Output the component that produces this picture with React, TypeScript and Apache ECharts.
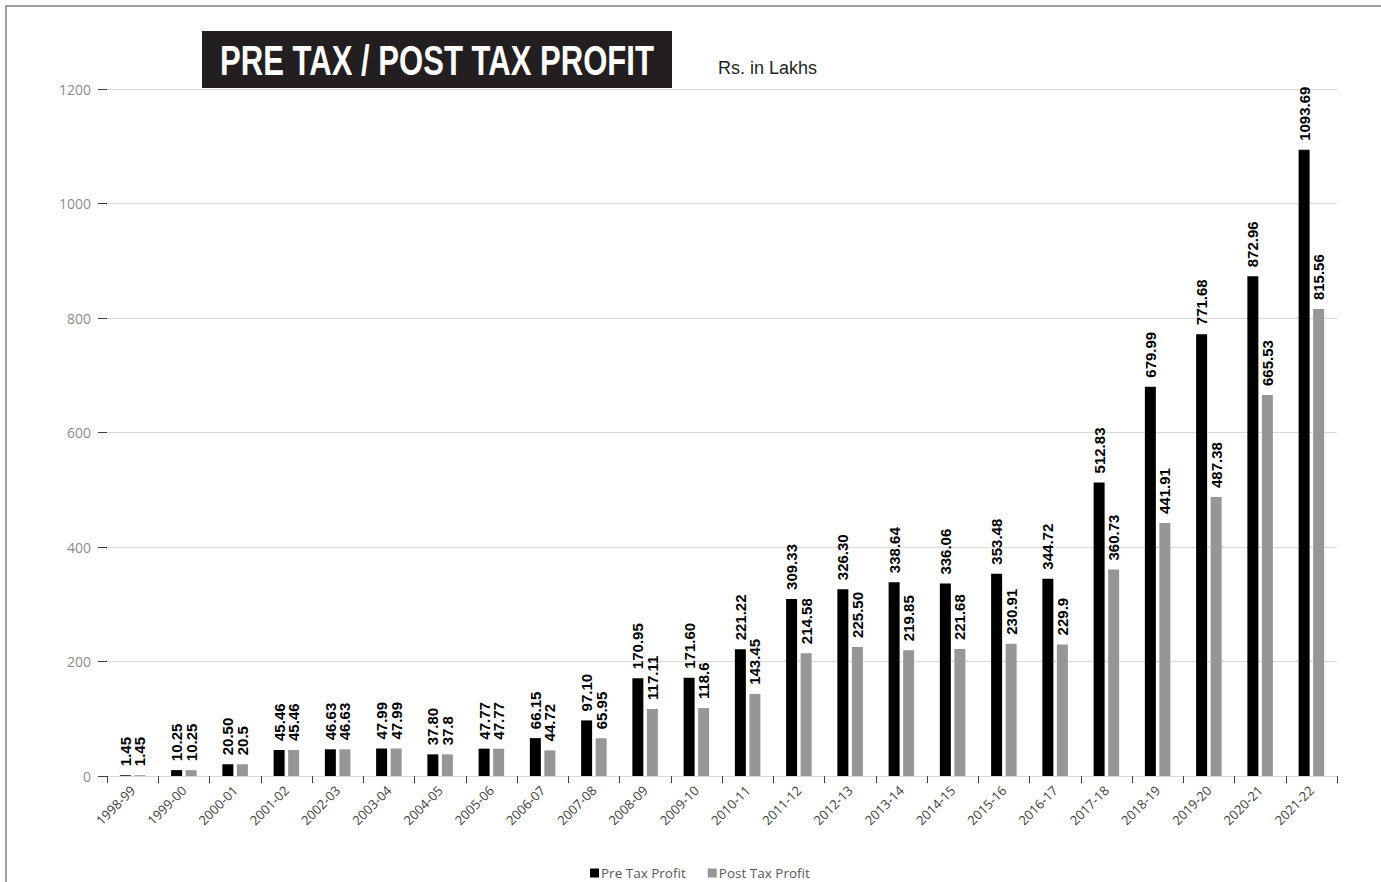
import React, { useEffect, useRef } from "react";
import * as echarts from "echarts";

const categories = [
  "1998-99", "1999-00", "2000-01", "2001-02", "2002-03", "2003-04", "2004-05", "2005-06",
  "2006-07", "2007-08", "2008-09", "2009-10", "2010-11", "2011-12", "2012-13", "2013-14",
  "2014-15", "2015-16", "2016-17", "2017-18", "2018-19", "2019-20", "2020-21", "2021-22",
];

const preTaxProfit = [
  1.45, 10.25, 20.5, 45.46, 46.63, 47.99, 37.8, 47.77, 66.15, 97.1, 170.95, 171.6,
  221.22, 309.33, 326.3, 338.64, 336.06, 353.48, 344.72, 512.83, 679.99, 771.68, 872.96, 1093.69,
];

const postTaxProfit = [
  1.45, 10.25, 20.5, 45.46, 46.63, 47.99, 37.8, 47.77, 44.72, 65.95, 117.11, 118.6,
  143.45, 214.58, 225.5, 219.85, 221.68, 230.91, 229.9, 360.73, 441.91, 487.38, 665.53, 815.56,
];

const preTaxLabels = [
  "1.45", "10.25", "20.50", "45.46", "46.63", "47.99", "37.80", "47.77", "66.15", "97.10", "170.95", "171.60",
  "221.22", "309.33", "326.30", "338.64", "336.06", "353.48", "344.72", "512.83", "679.99", "771.68", "872.96", "1093.69",
];

const postTaxLabels = [
  "1.45", "10.25", "20.5", "45.46", "46.63", "47.99", "37.8", "47.77", "44.72", "65.95", "117.11", "118.6",
  "143.45", "214.58", "225.50", "219.85", "221.68", "230.91", "229.9", "360.73", "441.91", "487.38", "665.53", "815.56",
];

const yTicks = [0, 200, 400, 600, 800, 1000, 1200];

const seriesNames = ["Pre Tax Profit", "Post Tax Profit"];
const titleText = "PRE TAX / POST TAX PROFIT";
const unitText = "Rs. in Lakhs";

export default function App() {
  const ref = useRef<HTMLDivElement>(null);

  useEffect(() => {
    if (!ref.current) return;
    const chart = echarts.init(ref.current, undefined, { renderer: "svg" });

    const valueLabel = (labels: string[]) => ({
      show: true,
      position: "top" as const,
      rotate: 90,
      align: "left" as const,
      verticalAlign: "middle" as const,
      distance: 9,
      color: "#000000",
      fontFamily: "'Liberation Sans', Arial, sans-serif",
      fontWeight: "bold" as const,
      fontSize: 15,
      formatter: (p: any) => labels[p.dataIndex],
    });

    chart.setOption({
      animation: false,
      backgroundColor: "#ffffff",
      grid: { left: 107, right: 44, top: 89, bottom: 106, containLabel: false },
      legend: {
        left: 590,
        top: 866,
        padding: 0,
        icon: "rect",
        itemWidth: 9,
        itemHeight: 9,
        itemGap: 22,
        textStyle: { color: "#595959", fontSize: 13.5, fontFamily: "'Open Sans', sans-serif", padding: [0, 0, 0, -3] },
        data: seriesNames,
      },
      xAxis: {
        type: "category",
        data: categories,
        axisLine: { show: true, lineStyle: { color: "#d9d9d9", width: 1 } },
        axisTick: { show: true, length: 7, lineStyle: { color: "#404040", width: 1 } },
        axisLabel: {
          rotate: 45,
          interval: 0,
          margin: 12,
          color: "#404040",
          fontSize: 13,
          fontFamily: "'Open Sans', sans-serif",
        },
      },
      yAxis: {
        type: "value",
        min: yTicks[0],
        max: yTicks[yTicks.length - 1],
        interval: 200,
        axisLine: { show: false },
        axisTick: { show: true, length: 9, lineStyle: { color: "#404040", width: 1 } },
        axisLabel: {
          margin: 16,
          color: "#8c8c8c",
          fontSize: 14,
          fontFamily: "'Open Sans', sans-serif",
          formatter: (v: number) => String(v),
        },
        splitLine: { show: true, lineStyle: { color: "#d9d9d9", width: 1 } },
      },
      series: [
        {
          name: seriesNames[0],
          type: "bar",
          data: preTaxProfit,
          barWidth: 11,
          barGap: "32%",
          itemStyle: { color: "#000000" },
          label: valueLabel(preTaxLabels),
        },
        {
          name: seriesNames[1],
          type: "bar",
          data: postTaxProfit,
          barWidth: 11,
          itemStyle: { color: "#969696" },
          label: valueLabel(postTaxLabels),
        },
      ],
      graphic: [
        {
          type: "rect",
          shape: { x: 6, y: 6, width: 1400, height: 900 },
          style: { fill: "none", stroke: "#7f7f7f", lineWidth: 1.5 },
          silent: true,
        },
        {
          type: "rect",
          shape: { x: 202, y: 31, width: 470, height: 57 },
          style: { fill: "#231f20" },
          silent: true,
        },
        {
          type: "text",
          x: 437,
          y: 61,
          scaleX: 0.74,
          style: {
            text: titleText,
            fill: "#ffffff",
            fontSize: 42,
            fontWeight: "bold",
            fontFamily: "'Liberation Sans', Arial, sans-serif",
            align: "center",
            verticalAlign: "middle",
          },
          silent: true,
        },
        {
          type: "text",
          x: 718,
          y: 68,
          style: {
            text: unitText,
            fill: "#231f20",
            fontSize: 18,
            fontFamily: "'Liberation Sans', Arial, sans-serif",
            align: "left",
            verticalAlign: "middle",
          },
          silent: true,
        },
      ],
    });

    return () => chart.dispose();
  }, []);

  return (
    <div
      ref={ref}
      style={{ position: "fixed", left: 0, top: 0, width: 1381, height: 882 }}
    />
  );
}
